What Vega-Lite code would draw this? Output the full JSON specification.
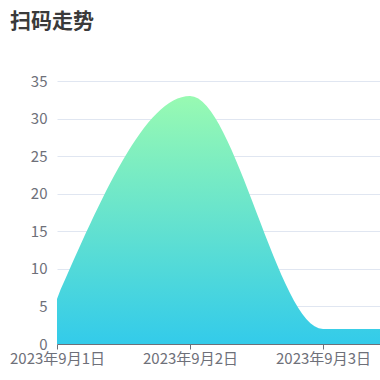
{
  "$schema": "https://vega.github.io/schema/vega-lite/v6.json",
  "width": 323,
  "height": 263,
  "autosize": {"type": "none"},
  "padding": {"left": 57, "top": 81, "right": 0, "bottom": 36},
  "background": "#ffffff",
  "title": {
    "text": "扫码走势",
    "anchor": "start",
    "frame": "group",
    "dx": -47,
    "offset": 25,
    "baseline": "alphabetic",
    "font": "Noto Sans CJK SC",
    "fontSize": 21,
    "fontWeight": "bold",
    "color": "#3a3a3a"
  },
  "data": {
    "values": [
      {"date": "2023-09-01T00:00:00", "count": 6},
      {"date": "2023-09-02T00:00:00", "count": 33},
      {"date": "2023-09-03T00:00:00", "count": 2},
      {"date": "2023-09-04T00:00:00", "count": 2}
    ]
  },
  "mark": {
    "type": "area",
    "interpolate": "monotone",
    "clip": true,
    "color": {
      "gradient": "linear",
      "x1": 0, "y1": 0, "x2": 0, "y2": 1,
      "stops": [
        {"offset": 0, "color": "#98fab2"},
        {"offset": 1, "color": "#33cbea"}
      ]
    }
  },
  "encoding": {
    "x": {
      "field": "date",
      "type": "temporal",
      "title": null,
      "scale": {
        "domain": [
          {"year": 2023, "month": 9, "date": 1},
          {"year": 2023, "month": 9, "date": 3, "hours": 10, "minutes": 17}
        ],
        "nice": false
      },
      "axis": {
        "values": [
          {"year": 2023, "month": 9, "date": 1},
          {"year": 2023, "month": 9, "date": 2},
          {"year": 2023, "month": 9, "date": 3}
        ],
        "format": "%Y年%-m月%-d日",
        "grid": false,
        "domainColor": "#6e7079",
        "tickColor": "#6e7079",
        "tickSize": 5,
        "labelPadding": 2,
        "labelFont": "Noto Sans CJK SC",
        "labelFontSize": 15,
        "labelColor": "#6e7079",
        "labelAlign": "center",
        "labelFlush": false,
        "labelOverlap": false,
        "labelBound": false
      }
    },
    "y": {
      "field": "count",
      "type": "quantitative",
      "title": null,
      "scale": {"domain": [0, 35], "nice": false},
      "axis": {
        "values": [0, 5, 10, 15, 20, 25, 30, 35],
        "domain": false,
        "ticks": false,
        "grid": true,
        "gridColor": "#e0e6f1",
        "labelPadding": 10,
        "labelFont": "Noto Sans CJK SC",
        "labelFontSize": 15,
        "labelColor": "#6e7079"
      }
    }
  },
  "config": {"view": {"stroke": null}}
}
